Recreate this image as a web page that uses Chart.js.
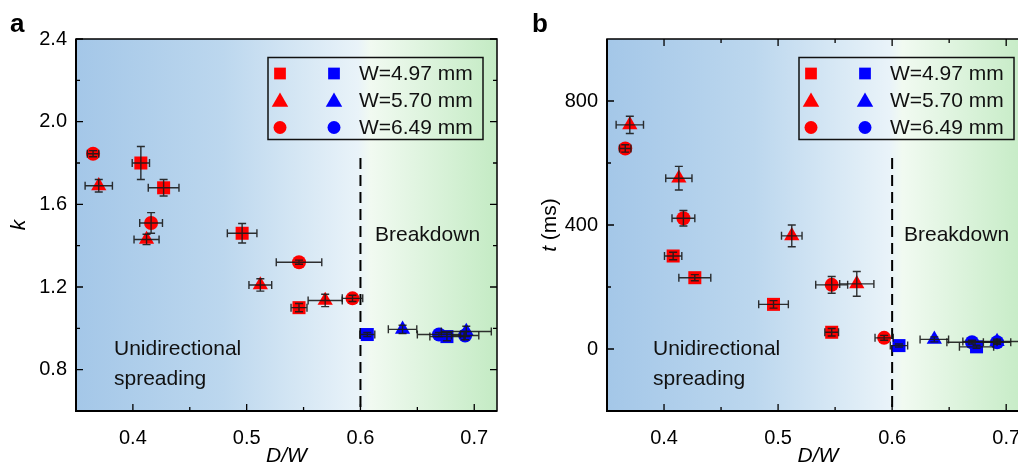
<!DOCTYPE html>
<html>
<head>
<meta charset="utf-8">
<script src="https://cdn.jsdelivr.net/npm/chart.js@4.4.0/dist/chart.umd.min.js"></script>
<style>
  body { margin: 0; background: #fff; overflow: hidden; width: 1018px; height: 464px; position: relative; }
  canvas { position: absolute; top: 0; }
  #chartA { left: 0; }
  #chartB { left: 509px; }
</style>
</head>
<body>
<canvas id="chartA" width="509" height="464"></canvas>
<canvas id="chartB" width="531" height="464"></canvas>
<script>
// dados: [D/W, valor, erro em x, erro em y]
const redSquareK   = [[0.407, 1.80, 0.0076, 0.08], [0.427, 1.68, 0.0135, 0.04], [0.496, 1.46, 0.013, 0.047], [0.546, 1.10, 0.007, 0.02]];
const redTriangleK = [[0.370, 1.69, 0.012, 0.03], [0.412, 1.43, 0.011, 0.025], [0.512, 1.21, 0.010, 0.03], [0.569, 1.135, 0.015, 0.03]];
const redCircleK   = [[0.365, 1.845, 0.005, 0.015], [0.416, 1.51, 0.010, 0.05], [0.546, 1.32, 0.020, 0.01], [0.593, 1.145, 0.009, 0.015]];
const blueSquareK   = [[0.606, 0.97, 0.0066, 0.01], [0.676, 0.96, 0.015, 0.02]];
const blueTriangleK = [[0.637, 0.995, 0.0125, 0.02], [0.693, 0.985, 0.022, 0.025]];
const blueCircleK   = [[0.669, 0.97, 0.019, 0.01], [0.692, 0.965, 0.012, 0.02]];

const redSquareT   = [[0.408, 300, 0.0076, 12], [0.427, 230, 0.014, 10], [0.496, 144, 0.013, 12], [0.547, 54, 0.006, 12]];
const redTriangleT = [[0.370, 723, 0.012, 28], [0.413, 551, 0.0115, 38], [0.512, 365, 0.009, 35], [0.569, 210, 0.015, 40]];
const redCircleT   = [[0.366, 647, 0.005, 12], [0.417, 422, 0.010, 25], [0.547, 207, 0.014, 27], [0.593, 36, 0.008, 8]];
const blueSquareT   = [[0.606, 11, 0.0076, 5], [0.674, 7, 0.015, 5]];
const blueTriangleT = [[0.637, 31, 0.0125, 8], [0.692, 24, 0.030, 8]];
const blueCircleT   = [[0.670, 22, 0.022, 6], [0.692, 22, 0.012, 6]];

const xLabels = [0.4, 0.5, 0.6, 0.7];
const xMinor = [0.45, 0.55, 0.65];
const kLabels = [0.8, 1.2, 1.6, 2.0, 2.4];
const kMinor = [1.0, 1.4, 1.8, 2.2];
const tLabels = [0, 400, 800];
const tMinor = [200, 600];
const legendNames = ['W=4.97 mm', 'W=5.70 mm', 'W=6.49 mm'];

const FONT = '"Liberation Sans", Arial, Helvetica, sans-serif';
const RED = '#ff0000', BLUE = '#0000ff';

function series(rows, style, color, r) {
  return {
    data: rows.map(p => ({ x: p[0], y: p[1], xe: p[2], ye: p[3] })),
    pointStyle: style,
    pointRadius: r,
    pointHoverRadius: r,
    backgroundColor: color,
    borderColor: color,
    borderWidth: 0
  };
}

function marker(ctx, style, x, y, r, color) {
  ctx.fillStyle = color;
  ctx.beginPath();
  if (style === 'rect') {
    const s = r * Math.SQRT1_2;
    ctx.rect(x - s, y - s, 2 * s, 2 * s);
  } else if (style === 'triangle') {
    ctx.moveTo(x, y - r);
    ctx.lineTo(x + r * 0.866, y + r / 2);
    ctx.lineTo(x - r * 0.866, y + r / 2);
    ctx.closePath();
  } else {
    ctx.arc(x, y, r, 0, Math.PI * 2);
  }
  ctx.fill();
}

const panelPlugin = {
  id: 'panel',
  beforeDraw(chart, args, o) {
    const { ctx, chartArea: a } = chart;
    const g = ctx.createLinearGradient(a.left, 0, a.right, 0);
    g.addColorStop(0, '#a4c7e8');
    g.addColorStop(0.35, '#bcd7ee');
    g.addColorStop(0.67, '#e9f3f9');
    g.addColorStop(0.70, '#f1faf1');
    g.addColorStop(1, '#c4ebc4');
    ctx.save();
    ctx.fillStyle = g;
    ctx.fillRect(a.left, a.top, a.right - a.left, a.bottom - a.top);
    ctx.restore();
  },
  beforeDatasetsDraw(chart, args, o) {
    const { ctx, chartArea: a, scales: { x, y } } = chart;
    ctx.save();
    // linha tracejada em D/W = 0.6
    const px = x.getPixelForValue(0.6);
    ctx.strokeStyle = '#000';
    ctx.lineWidth = 2;
    ctx.setLineDash([11, 6]);
    ctx.beginPath();
    ctx.moveTo(px, y.getPixelForValue(o.dashTop));
    ctx.lineTo(px, a.bottom);
    ctx.stroke();
    ctx.setLineDash([]);
    // textos das regiões
    ctx.fillStyle = '#111';
    ctx.font = '21px ' + FONT;
    ctx.textBaseline = 'alphabetic';
    ctx.fillText('Unidirectional', a.left + o.uniX, 355);
    ctx.fillText('spreading', a.left + o.uniX, 385);
    ctx.fillText('Breakdown', a.left + o.breakX, 241);
    ctx.restore();
  },
  afterDatasetsDraw(chart) {
    const { ctx, scales: { x, y } } = chart;
    ctx.save();
    ctx.strokeStyle = 'rgba(25,25,25,0.9)';
    ctx.lineWidth = 1.4;
    const cap = 4;
    chart.data.datasets.forEach(ds => {
      ds.data.forEach(p => {
        const cx = x.getPixelForValue(p.x), cy = y.getPixelForValue(p.y);
        const x1 = x.getPixelForValue(p.x - p.xe), x2 = x.getPixelForValue(p.x + p.xe);
        const y1 = y.getPixelForValue(p.y - p.ye), y2 = y.getPixelForValue(p.y + p.ye);
        ctx.beginPath();
        ctx.moveTo(x1, cy); ctx.lineTo(x2, cy);
        ctx.moveTo(x1, cy - cap); ctx.lineTo(x1, cy + cap);
        ctx.moveTo(x2, cy - cap); ctx.lineTo(x2, cy + cap);
        ctx.moveTo(cx, y1); ctx.lineTo(cx, y2);
        ctx.moveTo(cx - cap, y1); ctx.lineTo(cx + cap, y1);
        ctx.moveTo(cx - cap, y2); ctx.lineTo(cx + cap, y2);
        ctx.stroke();
      });
    });
    ctx.restore();
  },
  afterDraw(chart, args, o) {
    const { ctx, chartArea: a, scales: { x, y } } = chart;
    ctx.save();
    // moldura
    ctx.strokeStyle = '#000';
    ctx.lineWidth = 1.5;
    ctx.strokeRect(a.left, a.top, a.right - a.left, a.bottom - a.top);
    ctx.lineWidth = 2;
    ctx.beginPath();
    ctx.moveTo(a.left, a.top); ctx.lineTo(a.left, a.bottom); ctx.lineTo(a.right, a.bottom);
    ctx.stroke();
    // marcas para dentro
    ctx.lineWidth = 1.3;
    ctx.beginPath();
    const tickX = (v, len) => {
      const p = x.getPixelForValue(v);
      ctx.moveTo(p, a.bottom); ctx.lineTo(p, a.bottom - len);
      if (o.topTicks) { ctx.moveTo(p, a.top); ctx.lineTo(p, a.top + len); }
    };
    const tickY = (v, len) => {
      const p = y.getPixelForValue(v);
      ctx.moveTo(a.left, p); ctx.lineTo(a.left + len, p);
      ctx.moveTo(a.right, p); ctx.lineTo(a.right - len, p);
    };
    xLabels.forEach(v => tickX(v, 7));
    xMinor.forEach(v => tickX(v, 4));
    o.yMajor.forEach(v => tickY(v, 7));
    o.yMinor.forEach(v => tickY(v, 4));
    ctx.stroke();
    // legenda
    const lx = a.left + 192, ly = 57.5;
    ctx.lineWidth = 1.5;
    ctx.strokeStyle = '#111';
    ctx.strokeRect(lx, ly, 215, 82);
    const styles = ['rect', 'triangle', 'circle'];
    const radii = [8.3, 9.5, 6.5];
    ctx.font = '21px ' + FONT;
    ctx.textBaseline = 'middle';
    styles.forEach((s, i) => {
      const ry = ly + 16 + i * 27;
      marker(ctx, s, lx + 12, ry + (s === 'triangle' ? 1.5 : 0), radii[i], RED);
      marker(ctx, s, lx + 66, ry + (s === 'triangle' ? 1.5 : 0), radii[i], BLUE);
      ctx.fillStyle = '#111';
      ctx.fillText(legendNames[i], lx + 91, ry + 1);
    });
    // letra do painel
    ctx.fillStyle = '#000';
    ctx.font = 'bold 26px ' + FONT;
    ctx.textBaseline = 'alphabetic';
    ctx.fillText(o.letter, o.letterX, 32);
    // títulos dos eixos
    ctx.font = 'italic 21px ' + FONT;
    ctx.textAlign = 'center';
    ctx.fillText('D/W', (a.left + a.right) / 2, 462);
    ctx.save();
    ctx.translate(a.left - o.titleGap, (a.top + a.bottom) / 2);
    ctx.rotate(-Math.PI / 2);
    ctx.textAlign = 'left';
    ctx.font = 'italic 21px ' + FONT;
    const w1 = ctx.measureText(o.yTitle[0]).width;
    ctx.font = '21px ' + FONT;
    const w2 = ctx.measureText(o.yTitle[1]).width;
    const sx = -(w1 + w2) / 2;
    ctx.font = 'italic 21px ' + FONT;
    ctx.fillText(o.yTitle[0], sx, 0);
    ctx.font = '21px ' + FONT;
    ctx.fillText(o.yTitle[1], sx + w1, 0);
    ctx.restore();
    ctx.restore();
  }
};

function makeChart(id, sets, yMin, yMax, yLabels, yFmt, axisW, padRight, panel) {
  return new Chart(document.getElementById(id), {
    type: 'scatter',
    data: { datasets: sets },
    plugins: [panelPlugin],
    options: {
      responsive: false,
      animation: false,
      events: [],
      layout: { padding: { left: 0, right: padRight, top: 39, bottom: 0 } },
      plugins: { legend: { display: false }, tooltip: { enabled: false }, panel: panel },
      scales: {
        x: {
          type: 'linear', min: 0.35, max: 0.72,
          grid: { display: false, drawTicks: false },
          border: { display: false },
          afterBuildTicks: s => { s.ticks = xLabels.map(v => ({ value: v })); },
          afterFit: s => { s.height = 53; },
          ticks: { autoSkip: false, maxRotation: 0, padding: 15, color: '#000', font: { size: 20, family: FONT }, callback: v => v.toFixed(1) }
        },
        y: {
          type: 'linear', min: yMin, max: yMax,
          grid: { display: false, drawTicks: false },
          border: { display: false },
          afterBuildTicks: s => { s.ticks = yLabels.map(v => ({ value: v })); },
          afterFit: s => { s.width = axisW; },
          ticks: { autoSkip: false, padding: 9, color: '#000', font: { size: 20, family: FONT }, callback: yFmt }
        }
      }
    }
  });
}

makeChart('chartA', [
  series(redSquareK, 'rect', RED, 9.2),
  series(redTriangleK, 'triangle', RED, 8.8),
  series(redCircleK, 'circle', RED, 7),
  series(blueSquareK, 'rect', BLUE, 9.2),
  series(blueTriangleK, 'triangle', BLUE, 8.8),
  series(blueCircleK, 'circle', BLUE, 7)
], 0.6, 2.4, kLabels, v => v.toFixed(1), 76, 12,
  { yMajor: kLabels, yMinor: kMinor, dashTop: 1.824, uniX: 38, breakX: 299, letter: 'a', letterX: 10, yTitle: ['k', ''], titleGap: 51, topTicks: false });

makeChart('chartB', [
  series(redSquareT, 'rect', RED, 9.2),
  series(redTriangleT, 'triangle', RED, 8.8),
  series(redCircleT, 'circle', RED, 7),
  series(blueSquareT, 'rect', BLUE, 9.2),
  series(blueTriangleT, 'triangle', BLUE, 8.8),
  series(blueCircleT, 'circle', BLUE, 7)
], -200, 1000, tLabels, v => String(v), 98, 11,
  { yMajor: tLabels, yMinor: tMinor, dashTop: 616, uniX: 46, breakX: 297, letter: 'b', letterX: 23, yTitle: ['t', ' (ms)'], titleGap: 51, topTicks: true });
</script>
</body>
</html>
